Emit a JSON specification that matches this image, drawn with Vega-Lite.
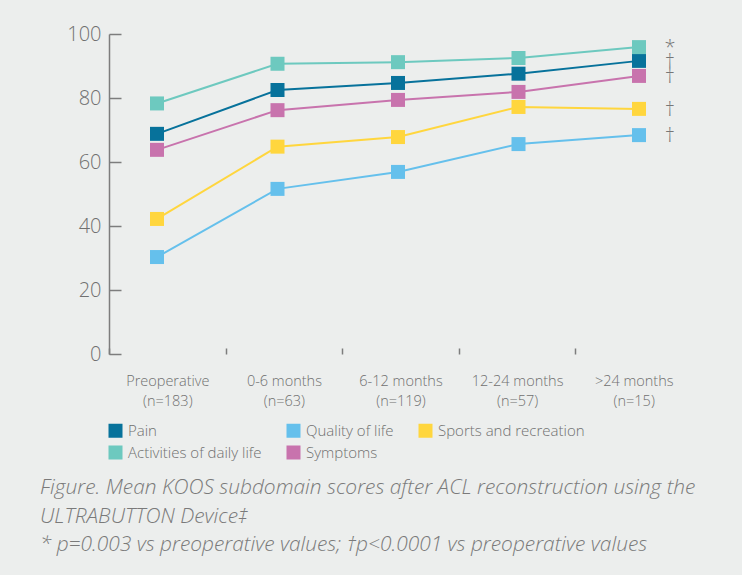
{
  "$schema": "https://vega.github.io/schema/vega-lite/v6.json",
  "width": 562,
  "height": 320,
  "autosize": {"type": "none"},
  "padding": {"left": 109, "top": 34, "right": 71, "bottom": 221},
  "background": "#eceeed",
  "config": {"view": {"stroke": null}, "font": "Open Sans"},
  "title": {
    "text": ["Figure. Mean KOOS subdomain scores after ACL reconstruction using the", "ULTRABUTTON Device‡", "* p=0.003 vs preoperative values; †p<0.0001 vs preoperative values"],
    "orient": "bottom",
    "anchor": "start",
    "frame": "group",
    "dx": -69,
    "offset": 16,
    "font": "Open Sans",
    "fontStyle": "italic",
    "fontWeight": 300,
    "fontSize": 20.9,
    "color": "#7a7a7a",
    "lineHeight": 28.5
  },
  "data": {"values": [
    {"period": "Preoperative\n(n=183)", "domain": "Pain", "score": 68.8},
    {"period": "0-6 months\n(n=63)", "domain": "Pain", "score": 82.5},
    {"period": "6-12 months\n(n=119)", "domain": "Pain", "score": 84.7},
    {"period": "12-24 months\n(n=57)", "domain": "Pain", "score": 87.6},
    {"period": ">24 months\n(n=15)", "domain": "Pain", "score": 91.6, "sig": "†"},
    {"period": "Preoperative\n(n=183)", "domain": "Quality of life", "score": 30.3},
    {"period": "0-6 months\n(n=63)", "domain": "Quality of life", "score": 51.6},
    {"period": "6-12 months\n(n=119)", "domain": "Quality of life", "score": 56.9},
    {"period": "12-24 months\n(n=57)", "domain": "Quality of life", "score": 65.6},
    {"period": ">24 months\n(n=15)", "domain": "Quality of life", "score": 68.4, "sig": "†"},
    {"period": "Preoperative\n(n=183)", "domain": "Sports and recreation", "score": 42.2},
    {"period": "0-6 months\n(n=63)", "domain": "Sports and recreation", "score": 64.8},
    {"period": "6-12 months\n(n=119)", "domain": "Sports and recreation", "score": 67.8},
    {"period": "12-24 months\n(n=57)", "domain": "Sports and recreation", "score": 77.2},
    {"period": ">24 months\n(n=15)", "domain": "Sports and recreation", "score": 76.6, "sig": "†"},
    {"period": "Preoperative\n(n=183)", "domain": "Activities of daily life", "score": 78.3},
    {"period": "0-6 months\n(n=63)", "domain": "Activities of daily life", "score": 90.7},
    {"period": "6-12 months\n(n=119)", "domain": "Activities of daily life", "score": 91.2},
    {"period": "12-24 months\n(n=57)", "domain": "Activities of daily life", "score": 92.5},
    {"period": ">24 months\n(n=15)", "domain": "Activities of daily life", "score": 95.9, "sig": "*"},
    {"period": "Preoperative\n(n=183)", "domain": "Symptoms", "score": 63.8},
    {"period": "0-6 months\n(n=63)", "domain": "Symptoms", "score": 76.2},
    {"period": "6-12 months\n(n=119)", "domain": "Symptoms", "score": 79.4},
    {"period": "12-24 months\n(n=57)", "domain": "Symptoms", "score": 81.9},
    {"period": ">24 months\n(n=15)", "domain": "Symptoms", "score": 86.9, "sig": "†"}
  ]},
  "layer": [
    {
      "mark": {"type": "point", "opacity": 0},
      "encoding": {
        "x": {
          "field": "period", "type": "ordinal", "sort": null,
          "scale": {"type": "band", "range": [0, 583], "paddingInner": 0, "paddingOuter": 0},
          "axis": {
            "title": null, "domain": false, "labelAngle": 0,
            "bandPosition": 0.5, "tickOffset": -58.3, "labelOffset": 58.3,
            "tickSize": -6, "tickWidth": 1.5, "tickColor": "#7d7d7d",
            "labelPadding": 26, "labelFontSize": 14.5, "labelColor": "#707070",
            "labelLineHeight": 20, "labelFontWeight": 300,
            "labelExpr": "split(datum.label, '\\n')"
          }
        }
      }
    },
    {
      "layer": [
        {
          "data": {"values": [{}]},
          "mark": {"type": "rule", "color": "#7d7d7d", "strokeWidth": 1.5},
          "encoding": {"y": {"datum": 0}}
        },
        {
          "mark": {"type": "line", "strokeWidth": 2},
          "encoding": {
            "x": {"field": "period", "type": "ordinal", "sort": null, "scale": {"type": "point", "range": [48, 530], "padding": 0}, "axis": null},
            "y": {"field": "score", "type": "quantitative"},
            "color": {"field": "domain", "type": "nominal"}
          }
        },
        {
          "mark": {"type": "square", "size": 196, "opacity": 1, "filled": true},
          "encoding": {
            "x": {"field": "period", "type": "ordinal", "sort": null, "scale": {"type": "point", "range": [48, 530], "padding": 0}, "axis": null},
            "y": {"field": "score", "type": "quantitative"},
            "color": {"field": "domain", "type": "nominal"}
          }
        },
        {
          "transform": [{"filter": "datum.sig"}],
          "mark": {"type": "text", "dx": 31, "dy": 1, "fontSize": 20, "fontWeight": 300, "baseline": "middle"},
          "encoding": {
            "x": {"field": "period", "type": "ordinal", "sort": null, "scale": {"type": "point", "range": [48, 530], "padding": 0}, "axis": null},
            "y": {"field": "score", "type": "quantitative"},
            "text": {"field": "sig"},
            "color": {"value": "#777777"}
          }
        }
      ],
      "encoding": {
        "y": {
          "field": "score", "type": "quantitative",
          "scale": {"domain": [0, 100]},
          "axis": {
            "title": null, "values": [0, 20, 40, 60, 80, 100], "grid": false,
            "tickSize": -12, "labelPadding": 20, "tickWidth": 1.5, "domainWidth": 1.5,
            "domainColor": "#7d7d7d", "tickColor": "#7d7d7d",
            "labelColor": "#707070", "labelFontSize": 20, "labelFontWeight": 300
          }
        },
        "color": {
          "field": "domain", "type": "nominal",
          "scale": {
            "domain": ["Pain", "Quality of life", "Sports and recreation", "Activities of daily life", "Symptoms"],
            "range": ["#07729b", "#65c0ec", "#ffd63e", "#6dc9bf", "#c873ad"]
          },
          "legend": {
            "orient": "none", "legendX": -1, "legendY": 389, "title": null,
            "columns": 3, "direction": "horizontal",
            "symbolType": "square", "symbolSize": 196, "symbolStrokeWidth": 0,
            "symbolOpacity": 1,
            "labelFontSize": 15, "labelColor": "#707070", "labelFontWeight": 300,
            "columnPadding": 24, "rowPadding": 6, "labelOffset": 5, "padding": 0
          }
        }
      }
    }
  ],
  "resolve": {"scale": {"x": "independent"}, "axis": {"x": "independent"}}
}
